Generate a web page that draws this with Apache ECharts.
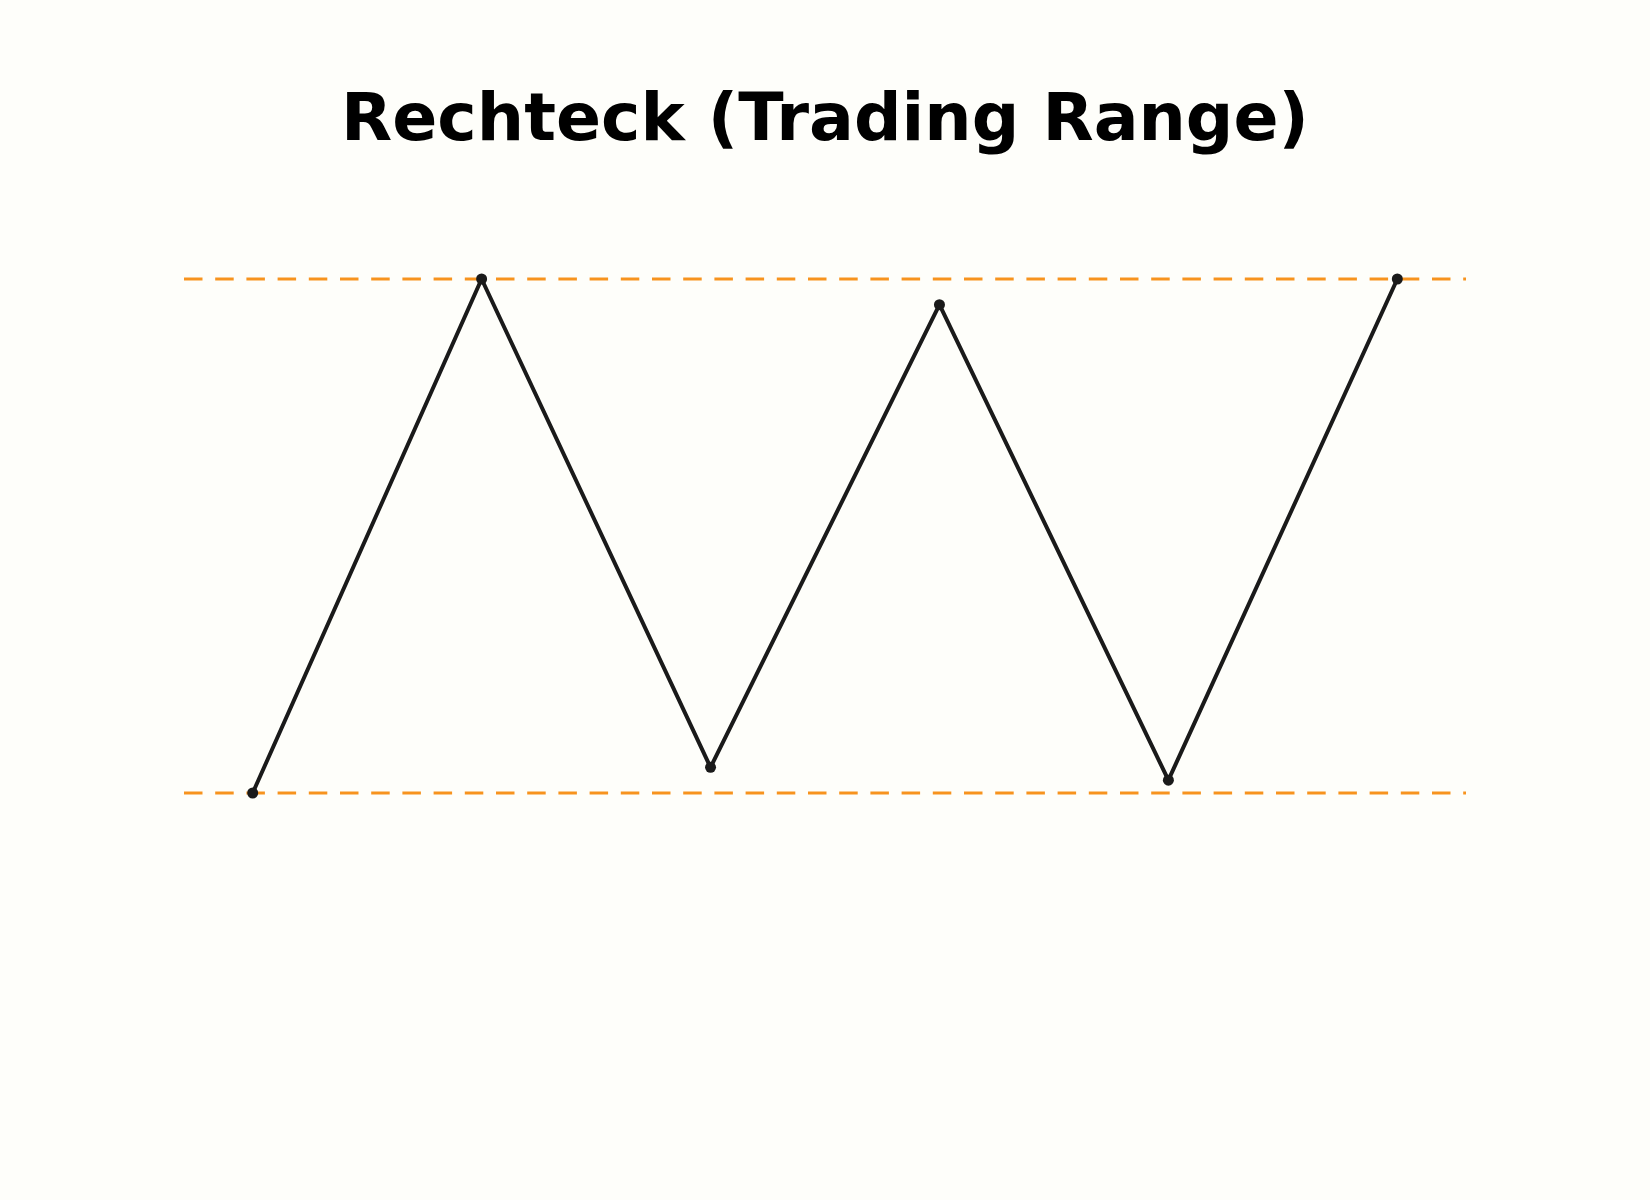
<!DOCTYPE html>
<html>
<head>
<meta charset="utf-8">
<title>Rechteck (Trading Range)</title>
<script src="https://cdn.jsdelivr.net/npm/echarts@6/dist/echarts.min.js"></script>
<style>
    html, body {
        margin: 0;
        padding: 0;
        background: #fefefa;
    }
    #chart {
        width: 1650px;
        height: 1200px;
    }
</style>
</head>
<body>
<div id="chart"></div>
<script>
// Kursverlauf: abwechselnd Tief und Hoch innerhalb der Range
const pointX = [0, 1, 2, 3, 4, 5]
const priceY = [90, 110, 91, 109, 90.5, 110]

// Widerstand und Unterstützung
const resistance = 110
const support = 90
const levelXRange = [-0.3, 5.3]

const chart = echarts.init(document.querySelector('#chart'))

function levelLine(value) {
    return {
        type: 'line',
        data: levelXRange.map(x => [x, value]),
        symbol: 'none',
        silent: true,
        clip: false,
        z: 1,
        lineStyle: {
            color: '#f7931e',
            width: 3,
            // gestrichelte Linie wie im Original
            type: [18.5, 12.7],
        },
    }
}

const option = {
    backgroundColor: '#fefefa',
    animation: false,
    title: {
        text: 'Rechteck (Trading Range)',
        left: 'center',
        top: 84,
        textStyle: {
            fontFamily: 'DejaVu Sans',
            fontWeight: 'bold',
            fontSize: 66.5,
            color: '#000',
        },
    },
    grid: {
        left: 184,
        right: 184,
        top: 279,
        bottom: 407,
    },
    xAxis: {
        type: 'value',
        min: levelXRange[0],
        max: levelXRange[1],
        show: false,
    },
    yAxis: {
        type: 'value',
        min: support,
        max: resistance,
        show: false,
    },
    series: [
        levelLine(resistance),
        levelLine(support),
        {
            type: 'line',
            data: pointX.map((x, i) => [x, priceY[i]]),
            clip: false,
            z: 3,
            symbol: 'circle',
            symbolSize: 11,
            itemStyle: {
                color: '#1a1a1a',
            },
            lineStyle: {
                color: '#1a1a1a',
                width: 4,
            },
        },
    ],
}

chart.setOption(option)
</script>
</body>
</html>
